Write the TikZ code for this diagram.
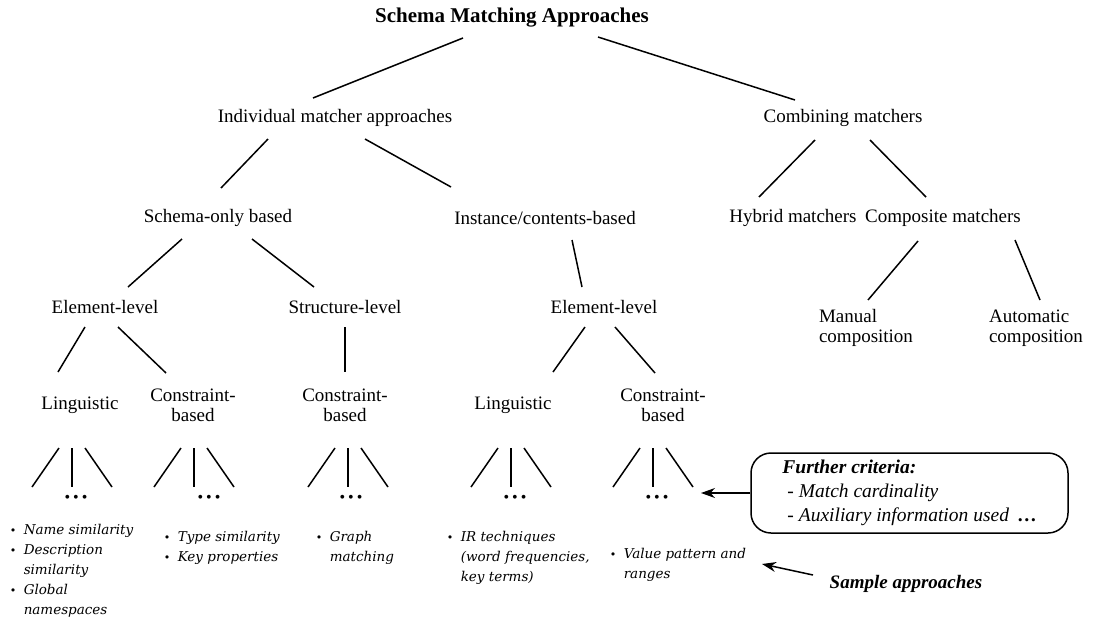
\documentclass[tikz,border=0pt]{standalone}
\usepackage{fontspec}
\setmainfont{Liberation Serif}
\newfontfamily\bulfont{DejaVu Serif}
\usetikzlibrary{calc,arrows.meta}
\newcommand\conn[6]{\draw ([shift={(#2,#3)}]#1.center) -- ([shift={(#5,#6)}]#4.center);}
\newcommand\fanout[4]{%
  \draw ([shift={(#3-13,43)}]#1.center) -- ([shift={(#4-40,-12)}]#2.center);
  \draw ([shift={(#3,43)}]#1.center) -- ([shift={(#4,-12)}]#2.center);
  \draw ([shift={(#3+13,43)}]#1.center) -- ([shift={(#4+40,-12)}]#2.center);}
\newcommand\bitem{\makebox[14pt][l]{\upshape\fontsize{11}{11}\selectfont\textbullet}}
\newcommand\bcont{\hspace*{14pt}}
\begin{document}
\begin{tikzpicture}[x=1pt,y=-1pt,line width=1.5pt,
  title/.style={font=\bfseries\fontsize{21}{24}\selectfont,inner sep=0pt},
  lvl/.style={font=\fontsize{19}{20}\selectfont,inner sep=0pt,align=center},
  bul/.style={font=\bulfont\itshape\fontsize{13.5}{20}\selectfont,inner sep=0pt,anchor=north west,align=left},
  dots/.style={font=\fontsize{16}{16}\selectfont,inner sep=0pt},
  crit/.style={draw,rounded corners=20pt,minimum width=317pt,minimum height=80pt,inner sep=0pt,
    font=\itshape\fontsize{19.5}{24}\selectfont,align=left},
  samp/.style={font=\bfseries\itshape\fontsize{19}{20}\selectfont,inner sep=0pt},
  arr/.style={-{Stealth[length=14pt,width=10pt]}}]
\useasboundingbox (0,0) rectangle (1098,622);
\node[title] (root) at (512,18) {Schema Matching Approaches};
\node[lvl] (ind) at (335,118) {Individual matcher approaches};
\node[lvl] (comb) at (843,118) {Combining matchers};
\node[lvl] (so) at (218,218) {Schema-only based};
\node[lvl] (inst) at (545,218) {Instance/contents-based};
\node[lvl] (hyb) at (793,218) {Hybrid matchers};
\node[lvl] (comp) at (943,218) {Composite matchers};
\node[lvl] (el1) at (105,307) {Element-level};
\node[lvl] (st) at (345,307) {Structure-level};
\node[lvl] (el2) at (604,307) {Element-level};
\node[lvl,align=left] (man) at (866,328) {Manual\\composition};
\node[lvl,align=left] (auto) at (1036,328) {Automatic\\composition};
\node[lvl] (li1) at (80,405) {Linguistic};
\node[lvl] (cb1) at (193,405) {Constraint-\\based};
\node[lvl] (cb2) at (345,405) {Constraint-\\based};
\node[lvl] (li2) at (513,405) {Linguistic};
\node[lvl] (cb3) at (663,405) {Constraint-\\based};
\foreach \n/\x in {d1/76,d2/209,d3/351,d4/515,d5/657}
  \node[dots] (\n) at (\x,499) {\textbullet\hspace{3pt}\textbullet\hspace{3pt}\textbullet};
\conn{root}{-49}{20}{ind}{-22}{-20}
\conn{root}{86}{19}{comb}{-48}{-18}
\conn{ind}{-67}{21}{so}{3}{-30}
\conn{ind}{30}{21}{inst}{-94}{-31}
\conn{comb}{-28}{22}{hyb}{-34}{-21}
\conn{comb}{27}{22}{comp}{-17}{-21}
\conn{so}{-36}{21}{el1}{23}{-20}
\conn{so}{34}{21}{st}{-31}{-20}
\conn{inst}{27}{22}{el2}{-22}{-20}
\conn{comp}{-25}{23}{man}{2}{-28}
\conn{comp}{72}{22}{auto}{4}{-28}
\conn{el1}{-20}{20}{li1}{-22}{-33}
\conn{el1}{13}{20}{cb1}{-27}{-32}
\conn{st}{0}{20}{cb2}{0}{-33}
\conn{el2}{-19}{20}{li2}{40}{-33}
\conn{el2}{11}{20}{cb3}{-8}{-32}
\fanout{li1}{d1}{-8}{-4}
\fanout{cb1}{d2}{1}{-15}
\fanout{cb2}{d3}{3}{-3}
\fanout{li2}{d4}{-2}{-4}
\fanout{cb3}{d5}{-10}{-4}
\node[bul] (b1) at (9,523) {\bitem Name similarity\\\bitem Description\\\bcont similarity\\\bitem Global\\\bcont namespaces};
\node[bul] (b2) at (163,530) {\bitem Type similarity\\\bitem Key properties};
\node[bul] (b3) at (315,530) {\bitem Graph\\\bcont matching};
\node[bul] (b4) at (446,530) {\bitem IR techniques\\\bcont (word frequencies,\\\bcont key terms)};
\node[bul] (b5) at (609,547) {\bitem Value pattern and\\\bcont ranges};
\node[crit] (crit) at (909.5,493) {\textbf{Further criteria:}\\\hspace*{5pt}- Match cardinality\\\hspace*{5pt}- Auxiliary information used\hspace{8pt}\upshape\textbf{\dots}};
\node[samp] (samp) at (906,584) {Sample approaches};
\coordinate (stip) at (762,564);
\draw[arr] ([shift={(-93,-9)}]samp.center) -- (stip);
\draw[arr] (crit.west) -- ([shift={(44,-6)}]d5.center);
\end{tikzpicture}
\end{document}
